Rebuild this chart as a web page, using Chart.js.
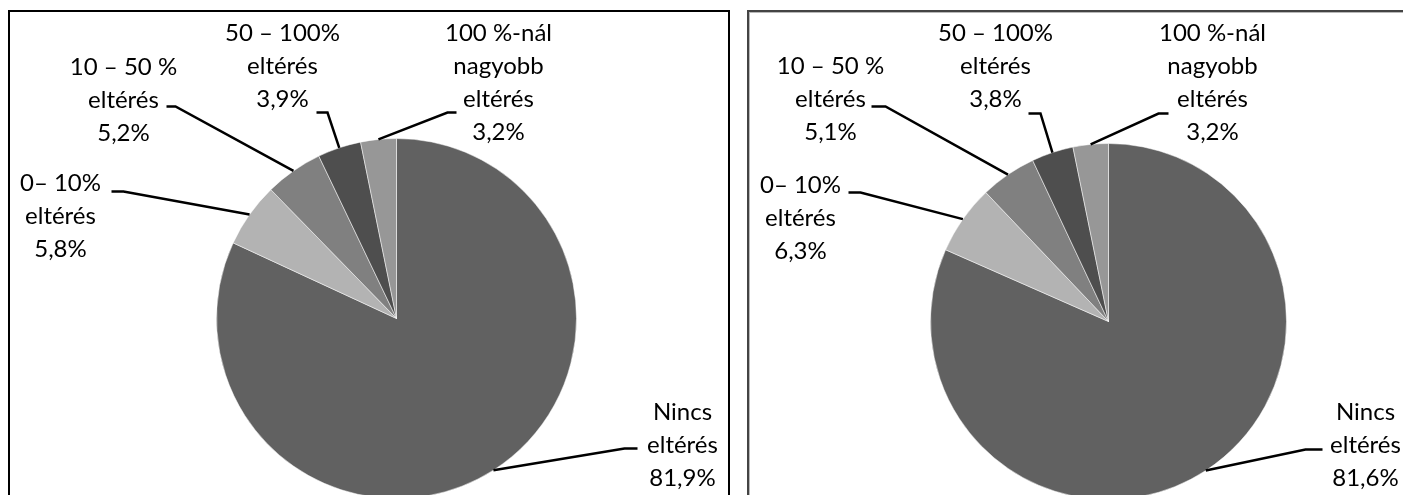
<!DOCTYPE html>
<html>
<head>
<meta charset="utf-8">
<script src="https://cdn.jsdelivr.net/npm/chart.js@4.4.1/dist/chart.umd.min.js"></script>
<style>
  html, body { margin: 0; padding: 0; background: #fff; overflow: hidden; }
  body { width: 1403px; height: 495px; position: relative; }
  .doboz { position: absolute; top: 10px; height: 600px; box-sizing: border-box; }
  #dobozBal { left: 8px; width: 722px; border: 2px solid #000; }
  #dobozJobb { left: 747px; width: 700px; border: 2px solid #444; box-shadow: inset 0 0 0 1px #b8b8b8; }
  canvas { position: absolute; top: 0; }
  #wrapBal { position: absolute; left: 0; top: 0; width: 740px; height: 540px; }
  #wrapJobb { position: absolute; left: 740px; top: 0; width: 663px; height: 540px; }
</style>
</head>
<body>
<div class="doboz" id="dobozBal"></div>
<div class="doboz" id="dobozJobb"></div>
<div id="wrapBal"><canvas id="tortaBal"></canvas></div>
<div id="wrapJobb"><canvas id="tortaJobb"></canvas></div>
<script>
// kategóriák (soronként tördelve, ahogy az ábrán)
const kategoriak = [
  ["Nincs", "eltérés"],
  ["0– 10%", "eltérés"],
  ["10 – 50 %", "eltérés"],
  ["50 – 100%", "eltérés"],
  ["100 %-nál", "nagyobb", "eltérés"]
];
const adatBal = [81.9, 5.8, 5.2, 3.9, 3.2];
const adatJobb = [81.6, 6.3, 5.1, 3.8, 3.2];
const szinek = ["#616161", "#b3b3b3", "#808080", "#4e4e4e", "#979797"];

// felirat elhelyezés a torta középpontjához képest (tx, ty: szöveg, lx, ly: vezetővonal kezdete, e: könyök)
const helyekBal = [
  { tx: 286, ty: 94, lx: 241, ly: 130, e: -13 },
  { tx: -336, ty: -135, lx: -285, ly: -127, e: 12 },
  { tx: -273, ty: -251, lx: -230, ly: -212, e: 9 },
  { tx: -114, ty: -285, lx: -80, ly: -206, e: 11 },
  { tx: 102, ty: -285, lx: 60, ly: -206, e: -9 }
];
const helyekJobb = [
  { tx: 257, ty: 91, lx: 214, ly: 128, e: -17 },
  { tx: -308, ty: -136, lx: -260, ly: -129, e: 12 },
  { tx: -278, ty: -255, lx: -237, ly: -215, e: 14 },
  { tx: -113, ty: -288, lx: -80, ly: -208, e: 12 },
  { tx: 104, ty: -288, lx: 60, ly: -208, e: -10 }
];

const vezetoFeliratok = {
  id: "vezetoFeliratok",
  afterDatasetsDraw(chart, args, opts) {
    const ctx = chart.ctx;
    const ertekek = chart.data.datasets[0].data;
    ctx.save();
    ctx.font = "24px Lato, 'Open Sans', sans-serif";
    ctx.fillStyle = "#000";
    ctx.strokeStyle = "#000";
    ctx.lineWidth = 2.5;
    ctx.textAlign = "center";
    ctx.textBaseline = "middle";
    chart.getDatasetMeta(0).data.forEach((arc, i) => {
      const p = arc.getProps(["x", "y", "startAngle", "endAngle", "outerRadius"], true);
      const h = opts.helyek[i];
      const kozep = (p.startAngle + p.endAngle) / 2;
      const ax = p.x + Math.cos(kozep) * p.outerRadius;
      const ay = p.y + Math.sin(kozep) * p.outerRadius;
      const sorok = chart.data.labels[i].concat(ertekek[i].toFixed(1).replace(".", ",") + "%");
      sorok.forEach((s, k) => ctx.fillText(s, p.x + h.tx, p.y + h.ty + k * 33));
      ctx.beginPath();
      ctx.moveTo(p.x + h.lx, p.y + h.ly);
      ctx.lineTo(p.x + h.lx + h.e, p.y + h.ly);
      ctx.lineTo(ax, ay);
      ctx.stroke();
    });
    ctx.restore();
  }
};

function torta(id, adat, helyek, padding) {
  new Chart(document.getElementById(id), {
    type: "pie",
    data: {
      labels: kategoriak,
      datasets: [{
        data: adat,
        backgroundColor: szinek,
        borderColor: "rgba(255,255,255,0.5)",
        borderWidth: 1
      }]
    },
    options: {
      responsive: true,
      maintainAspectRatio: false,
      animation: false,
      layout: { padding: padding },
      plugins: {
        legend: { display: false },
        tooltip: { enabled: false },
        vezetoFeliratok: { helyek: helyek }
      }
    },
    plugins: [vezetoFeliratok]
  });
}

torta("tortaBal", adatBal, helyekBal, { left: 216, top: 138, right: 163, bottom: 41 });
torta("tortaJobb", adatJobb, helyekJobb, { left: 190, top: 143, right: 116, bottom: 40 });
</script>
</body>
</html>
